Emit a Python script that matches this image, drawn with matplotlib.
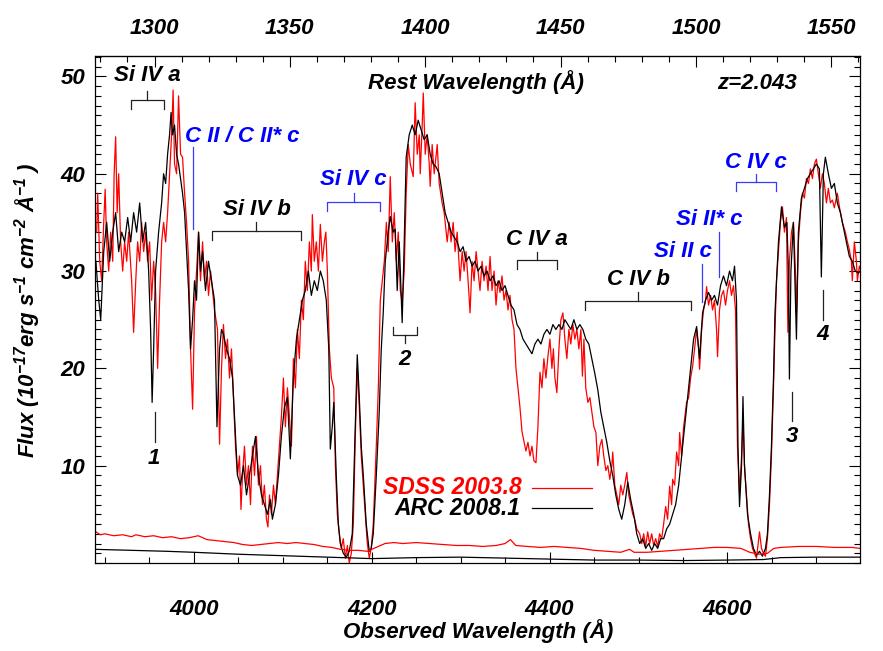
import numpy as np
import matplotlib
matplotlib.use("Agg")
import matplotlib.pyplot as plt
from matplotlib.ticker import MultipleLocator

plt.rcParams['font.family'] = 'Liberation Sans'
plt.rcParams['font.weight'] = 'bold'
plt.rcParams['font.style'] = 'italic'
plt.rcParams['mathtext.fontset'] = 'custom'
plt.rcParams['mathtext.rm'] = 'Liberation Sans:bold:italic'
plt.rcParams['mathtext.it'] = 'Liberation Sans:bold:italic'
plt.rcParams['mathtext.bf'] = 'Liberation Sans:bold:italic'
plt.rcParams['mathtext.default'] = 'rm'

z = 2.043

# ARC 2008.1 spectrum (observed wavelength, flux)
arc = [
    (3890, 31), (3893.2, 27), (3895.4, 25), (3898.8, 32), (3902.1, 35), (3905.5, 31), (3908.9, 34), (3912.2, 36), (3915.6, 32), (3919.0, 34),
    (3922.3, 33), (3925.7, 35.5), (3929.1, 33), (3932.4, 36), (3935.8, 34), (3939.2, 37), (3942.5, 33), (3945.9, 35), (3949.3, 30), (3951.5, 24),
    (3953.2, 16.5), (3954.9, 22), (3957.1, 30), (3960.5, 34), (3963.9, 37), (3966.1, 40), (3968.4, 39), (3970.6, 42), (3972.8, 44), (3974.5, 46.3),
    (3976.2, 44), (3978.4, 45), (3980.7, 42), (3982.9, 41), (3985.2, 39.5), (3987.4, 38), (3989.7, 36), (3991.9, 32), (3994.2, 28), (3996.4, 22),
    (3998.7, 25), (4000.9, 29), (4003.1, 27), (4005.4, 34), (4007.6, 30), (4009.9, 32), (4013.2, 28), (4016.6, 31), (4020.0, 29), (4023.3, 27),
    (4026.1, 14), (4029.0, 22), (4031.2, 24), (4033.4, 23.5), (4036.8, 22), (4040.2, 21), (4043.6, 19), (4046.9, 13), (4049.2, 9), (4052.5, 8),
    (4055.9, 10), (4059.3, 7), (4062.6, 9), (4066.0, 11), (4069.4, 13), (4072.7, 9), (4076.1, 7), (4079.4, 6), (4082.8, 5), (4086.2, 6.5),
    (4088.4, 4.5), (4091.8, 6), (4095.2, 9), (4098.5, 13), (4101.9, 16), (4105.3, 17), (4108.6, 10.7), (4112.0, 19), (4115.4, 23), (4118.7, 25),
    (4122.1, 27), (4125.4, 28), (4128.8, 30), (4132.2, 27.5), (4135.5, 29), (4138.9, 28), (4142.3, 30), (4145.6, 29), (4149.0, 27), (4151.8, 22),
    (4153.5, 11.7), (4155.7, 14), (4157.4, 16.5), (4160.2, 9), (4162.5, 4), (4164.7, 2), (4168.1, 1), (4171.5, 0.6), (4174.8, 1.2), (4178.2, 3),
    (4181.6, 14), (4183.8, 21.4), (4186.1, 17), (4188.3, 12), (4190.6, 9), (4193.9, 4), (4197.3, 1.2), (4199.5, 1.5), (4201.8, 3), (4205.2, 9),
    (4208.5, 15.5), (4210.8, 22), (4213.0, 25.7), (4215.3, 31), (4218.6, 34), (4220.9, 35.6), (4224.2, 34), (4226.5, 34.3), (4228.7, 28), (4231.0, 33),
    (4234.3, 24.7), (4236.6, 33), (4238.8, 41.7), (4242.2, 44), (4245.6, 45), (4248.9, 44), (4252.3, 45.5), (4255.7, 44.5), (4259.0, 43.5), (4262.4, 44),
    (4265.8, 42), (4269.1, 41), (4272.5, 40.7), (4275.9, 40), (4279.2, 38), (4282.6, 36), (4286.0, 35), (4289.3, 34), (4292.7, 33.5), (4296.1, 33),
    (4299.4, 32), (4302.8, 32.5), (4306.1, 31), (4309.5, 31.5), (4312.9, 30.5), (4316.2, 31), (4319.6, 30), (4323.0, 30.5), (4326.3, 29.5), (4329.7, 30),
    (4333.1, 29), (4336.4, 29.5), (4339.8, 28.5), (4343.2, 29), (4346.5, 28), (4349.9, 28.5), (4353.3, 27.5), (4356.6, 26.5), (4360.0, 26), (4363.4, 24.5),
    (4366.7, 24), (4370.1, 23), (4373.4, 22.5), (4376.8, 22), (4380.2, 21.5), (4383.5, 22.5), (4386.9, 23), (4390.3, 22.5), (4393.6, 23.5), (4397.0, 24),
    (4400.4, 23.5), (4403.7, 24.5), (4407.1, 24), (4410.5, 24.5), (4413.8, 24), (4417.2, 25), (4420.6, 24.5), (4423.9, 24), (4427.3, 25), (4430.7, 24),
    (4434.0, 24.5), (4437.4, 24), (4440.7, 23), (4444.1, 22.5), (4447.5, 21), (4450.8, 19.5), (4454.2, 17.8), (4457.6, 15.5), (4460.9, 14), (4464.3, 12.4),
    (4467.7, 10.5), (4471.0, 9), (4474.4, 7), (4477.8, 5.5), (4481.1, 4.5), (4484.5, 6), (4487.9, 8.3), (4491.2, 6.5), (4494.6, 5), (4498.0, 3),
    (4501.3, 2), (4504.7, 2.5), (4508.0, 1.5), (4511.4, 2), (4514.8, 1.3), (4518.1, 2), (4521.5, 1.5), (4524.9, 2.5), (4528.2, 2.5), (4531.6, 3.5),
    (4535.0, 4), (4538.3, 5), (4541.7, 6), (4545.1, 8), (4548.4, 11), (4551.8, 14), (4555.2, 17), (4558.5, 20), (4561.9, 23), (4565.3, 24.3),
    (4568.6, 21), (4572.0, 25.7), (4575.3, 27), (4578.7, 27.8), (4582.1, 27), (4585.4, 27.5), (4588.8, 26.5), (4592.2, 28.5), (4595.5, 29.5), (4598.9, 28.5),
    (4602.3, 30), (4605.6, 29), (4607.9, 30.5), (4610.1, 27), (4611.8, 12), (4613.5, 5.8), (4615.8, 10), (4617.4, 17.1), (4619.1, 10), (4622.5, 5),
    (4625.9, 3), (4629.2, 1.5), (4632.6, 0.8), (4636.0, 1.2), (4639.3, 0.7), (4642.7, 1.5), (4644.9, 3), (4647.2, 7), (4649.4, 12), (4651.7, 19),
    (4653.4, 25.7), (4655.1, 29), (4657.3, 33), (4660.7, 36.6), (4664.0, 34.5), (4666.8, 35), (4668.5, 30), (4669.6, 18.9), (4671.3, 30), (4674.1, 35),
    (4677.5, 23), (4679.7, 34), (4683.1, 37.5), (4686.5, 38.5), (4689.8, 39.5), (4693.2, 40), (4696.6, 40.5), (4699.9, 41), (4703.3, 40.5), (4705.5, 29.4),
    (4707.8, 40), (4710.0, 41.7), (4713.4, 40), (4716.8, 38.5), (4720.1, 39), (4723.5, 37), (4726.9, 36), (4730.2, 34.5), (4733.6, 33), (4737.0, 31.5),
    (4740.3, 31), (4743.7, 30), (4747.1, 29.8), (4749.3, 30),
]

# SDSS 2003.8 spectrum (observed wavelength, flux)
sdss = [
    (3890.9, 34), (3892.0, 38), (3894.3, 31), (3896.5, 29), (3898.8, 35), (3900.4, 38.4), (3902.1, 33), (3904.4, 30), (3906.6, 34), (3908.9, 31),
    (3910.5, 40), (3912.2, 43.8), (3913.9, 36), (3915.6, 40), (3917.8, 33), (3920.1, 30), (3922.3, 33), (3924.6, 31), (3926.8, 34), (3930.2, 29),
    (3932.4, 23.7), (3934.7, 28.8), (3936.9, 33), (3939.2, 31), (3941.4, 35), (3943.7, 32), (3945.9, 34), (3948.1, 31), (3950.4, 33), (3952.6, 27),
    (3954.9, 31), (3957.1, 28), (3959.4, 20), (3961.6, 27), (3963.9, 33), (3966.1, 35), (3968.4, 33), (3970.6, 36), (3972.8, 40), (3975.1, 44),
    (3976.8, 48.6), (3978.4, 41), (3980.7, 40), (3982.9, 48), (3985.2, 42), (3987.4, 41.7), (3989.7, 38), (3991.9, 35), (3994.2, 31), (3996.4, 22),
    (3998.7, 15.8), (4000.9, 26), (4003.1, 30), (4005.4, 34), (4007.6, 29), (4009.9, 33), (4012.1, 29), (4014.4, 31), (4016.6, 27.5), (4018.9, 30),
    (4021.1, 28), (4023.3, 26), (4026.7, 24), (4029.0, 12.2), (4031.2, 20), (4033.4, 24.5), (4035.7, 21), (4037.9, 23), (4040.2, 19), (4042.4, 22),
    (4044.7, 17), (4046.9, 12), (4049.2, 9), (4051.4, 11), (4053.1, 5.5), (4054.8, 9), (4057.0, 12), (4059.3, 8), (4061.5, 10), (4063.8, 6),
    (4066.0, 12), (4068.3, 9), (4070.5, 13), (4072.7, 8), (4075.0, 10), (4077.2, 6), (4079.4, 8), (4081.7, 4.5), (4083.4, 3.7), (4085.1, 7),
    (4087.3, 5), (4089.6, 8), (4091.8, 6), (4094.0, 9), (4096.3, 12), (4098.5, 15), (4100.8, 19), (4103.0, 14), (4105.3, 18), (4107.5, 15),
    (4109.8, 12), (4112.0, 21), (4114.3, 18), (4116.5, 24), (4118.7, 21), (4121.0, 27), (4123.2, 25), (4125.4, 31), (4127.7, 28), (4130.0, 33),
    (4132.2, 30), (4133.3, 35.8), (4135.5, 31), (4137.8, 33), (4140.1, 30), (4142.3, 34.8), (4144.6, 31), (4146.8, 33), (4148.5, 34), (4150.2, 30),
    (4152.4, 22), (4154.7, 19), (4157.4, 18), (4159.2, 10), (4161.4, 5), (4163.7, 3), (4165.9, 1.5), (4168.1, 2.5), (4170.4, 0.5), (4172.7, 1.8),
    (4174.8, 0), (4177.1, 1), (4179.4, 4), (4181.6, 13), (4183.8, 20), (4186.1, 16), (4188.3, 11), (4190.6, 8), (4192.9, 5), (4195.1, 2),
    (4197.3, 0.5), (4199.5, 1.5), (4201.8, 4), (4205.2, 12), (4207.5, 18), (4209.7, 27), (4212.0, 29), (4214.2, 31), (4216.5, 35), (4218.6, 32),
    (4220.9, 39.7), (4223.2, 33), (4225.4, 36), (4227.7, 31), (4229.9, 34), (4232.2, 28), (4234.3, 26.8), (4236.6, 30), (4238.8, 38), (4241.1, 43),
    (4243.4, 41), (4246.7, 39.7), (4248.9, 47.3), (4251.2, 42), (4253.5, 44), (4254.6, 40), (4256.8, 45), (4258.0, 48.3), (4260.2, 42), (4262.4, 44),
    (4264.7, 41), (4265.8, 38.7), (4268.0, 43), (4270.3, 40), (4273.7, 43), (4275.9, 39), (4279.2, 37), (4281.5, 36), (4284.9, 33), (4287.1, 35),
    (4289.3, 33), (4291.6, 35), (4293.8, 32), (4296.1, 34), (4299.4, 29), (4301.7, 32), (4303.9, 30), (4306.1, 32), (4308.4, 29), (4310.6, 25.7),
    (4312.9, 31), (4315.1, 29), (4317.4, 32), (4319.6, 30), (4321.8, 28), (4324.1, 31), (4326.3, 29), (4328.6, 30.5), (4330.8, 28), (4333.1, 31.5),
    (4335.3, 28), (4337.6, 30), (4339.8, 26.5), (4342.0, 29), (4344.3, 27.8), (4346.5, 29.5), (4348.8, 27), (4351.0, 28), (4353.3, 26), (4355.5, 27.5),
    (4357.8, 25), (4360.0, 24), (4362.2, 20), (4364.5, 18), (4366.7, 16), (4369.0, 13.5), (4371.2, 12.5), (4373.4, 11.5), (4375.7, 12.4), (4378.0, 11),
    (4380.2, 12), (4382.4, 10.5), (4384.7, 10.3), (4386.9, 14), (4389.2, 19.6), (4391.4, 18), (4393.6, 21), (4395.9, 19), (4398.1, 21.2), (4400.4, 23),
    (4402.6, 20), (4404.3, 22), (4406.0, 19), (4408.2, 17.5), (4410.5, 22), (4412.7, 25), (4415.0, 25.7), (4417.2, 23), (4419.4, 21), (4421.7, 24),
    (4423.9, 22.5), (4426.2, 24.5), (4428.4, 23), (4430.7, 24), (4432.9, 22), (4435.2, 24), (4436.9, 19.2), (4438.6, 23), (4440.7, 18), (4443.1, 16.5),
    (4445.3, 17), (4447.5, 15.5), (4449.8, 14), (4452.1, 13.4), (4454.2, 10), (4456.5, 12), (4458.8, 12.7), (4460.9, 11), (4463.3, 9.5), (4465.5, 10),
    (4467.7, 8.6), (4470.0, 10), (4471.0, 11.4), (4473.3, 8), (4475.6, 7), (4477.8, 6), (4480.0, 8), (4482.3, 7), (4484.5, 8), (4486.8, 9.3),
    (4489.0, 7), (4491.2, 6), (4493.5, 5), (4495.7, 4.5), (4498.0, 3.5), (4501.3, 3), (4503.6, 2), (4505.8, 3), (4508.0, 1.7), (4510.3, 3.2),
    (4512.5, 2), (4514.8, 3), (4517.0, 1.8), (4519.3, 2.5), (4521.5, 1.7), (4523.7, 3), (4526.0, 2.5), (4528.2, 4), (4530.5, 5.8), (4532.7, 4.5),
    (4535.0, 7.9), (4537.2, 6), (4538.3, 8.6), (4540.6, 8), (4542.8, 11.4), (4545.1, 10), (4546.2, 13.4), (4548.4, 11), (4550.7, 14), (4554.0, 16.5),
    (4556.3, 17), (4558.5, 19), (4560.8, 20.2), (4563.0, 22), (4565.3, 24), (4567.5, 22), (4568.6, 19.9), (4570.9, 24), (4573.1, 26), (4575.3, 27),
    (4576.5, 28.4), (4578.7, 26.5), (4581.0, 27.5), (4583.2, 26), (4585.4, 27), (4587.7, 24), (4588.8, 21.2), (4591.0, 26), (4593.3, 27.5), (4595.5, 28),
    (4597.8, 26.5), (4600.0, 28), (4602.3, 29), (4604.5, 27.5), (4606.7, 28.5), (4609.0, 26), (4611.2, 12), (4613.5, 7), (4615.8, 11), (4617.4, 14.5),
    (4619.1, 10), (4621.3, 7), (4623.6, 4), (4625.9, 2.5), (4628.1, 1.5), (4630.3, 1), (4632.6, 0.5), (4636.0, 3.2), (4638.2, 1.5), (4640.4, 1),
    (4642.7, 0.7), (4644.9, 2.5), (4647.2, 6), (4649.4, 11), (4651.7, 18), (4653.4, 24), (4655.1, 29), (4657.3, 32), (4659.5, 35), (4661.8, 36.6),
    (4664.0, 34), (4666.3, 35.5), (4667.9, 23.7), (4669.6, 31), (4671.9, 34), (4674.1, 35), (4676.4, 30), (4677.5, 25.7), (4679.7, 33), (4682.0, 36),
    (4684.2, 38), (4686.5, 37.5), (4688.7, 39.5), (4691.0, 39), (4693.2, 40.5), (4695.5, 39.5), (4697.7, 41), (4699.9, 41.5), (4702.2, 40), (4704.4, 38.5),
    (4706.7, 40), (4708.9, 39), (4711.2, 37), (4713.4, 38.5), (4715.7, 37), (4717.9, 37.3), (4720.1, 36.5), (4723.5, 38), (4725.8, 36.6), (4729.1, 35),
    (4732.5, 34), (4734.8, 33), (4737.0, 32.2), (4739.3, 31), (4740.3, 29), (4742.6, 33), (4744.9, 31), (4746.0, 29), (4748.2, 30.5), (4750, 30),
]

# error spectra
sdss_err = [
    (3890, 3.2), (3895, 2.9), (3900, 3.0), (3910, 2.8), (3920, 2.9), (3930, 2.7), (3935, 2.9), (3945, 2.7), (3955, 2.8), (3965, 2.6),
    (3975, 2.7), (3985, 2.5), (3995, 2.6), (4005, 2.8), (4015, 2.4), (4025, 2.3), (4035, 2.2), (4045, 2.1), (4055, 1.9), (4065, 1.8),
    (4075, 1.9), (4085, 2.0), (4095, 2.1), (4105, 2.0), (4115, 2.1), (4125, 2.0), (4135, 1.9), (4145, 1.7), (4155, 1.6), (4165, 1.4),
    (4175, 1.3), (4185, 1.3), (4195, 1.2), (4205, 1.6), (4215, 2.0), (4225, 2.1), (4235, 2.0), (4250, 2.1), (4265, 2.0), (4280, 1.9),
    (4295, 1.8), (4310, 1.8), (4325, 1.7), (4340, 1.8), (4350, 2.0), (4356, 2.4), (4362, 1.8), (4375, 1.7), (4390, 1.6), (4405, 1.7),
    (4420, 1.6), (4435, 1.5), (4450, 1.3), (4465, 1.2), (4480, 1.1), (4490, 1.4), (4495, 1.1), (4510, 1.1), (4525, 1.2), (4540, 1.3),
    (4555, 1.4), (4570, 1.5), (4585, 1.6), (4600, 1.6), (4615, 1.5), (4625, 1.1), (4635, 0.9), (4645, 1.0), (4652, 1.5), (4660, 1.6),
    (4680, 1.7), (4700, 1.7), (4720, 1.6), (4740, 1.6), (4749, 1.5),
]
arc_err = [
    (3890, 1.4), (3930, 1.3), (3970, 1.2), (4000, 1.1), (4050, 0.9), (4100, 0.75), (4150, 0.6), (4200, 0.45), (4250, 0.55), (4300, 0.6),
    (4350, 0.5), (4400, 0.4), (4450, 0.3), (4500, 0.3), (4550, 0.25), (4600, 0.3), (4640, 0.35), (4660, 0.55), (4700, 0.6), (4749, 0.6),
]

arc_w, arc_f = np.array(arc).T
sdss_w, sdss_f = np.array(sdss).T
sdss_ew, sdss_e = np.array(sdss_err).T
arc_ew, arc_e = np.array(arc_err).T

fig = plt.figure(figsize=(8.83, 6.51), dpi=100)
ax = fig.add_axes([0.1076, 0.1352, 0.8664, 0.7788])

ax.plot(sdss_w, sdss_f, color='red', lw=0.9)
ax.plot(arc_w, arc_f, color='black', lw=0.9)
ax.plot(sdss_ew, sdss_e, color='red', lw=0.9)
ax.plot(arc_ew, arc_e, color='black', lw=0.9)

ax.set_xlim(3889, 4749)
ax.set_ylim(0, 52.1)
ax.set_xticks([4000, 4200, 4400, 4600])
ax.xaxis.set_minor_locator(MultipleLocator(50))
ax.set_yticks([10, 20, 30, 40, 50])
ax.yaxis.set_minor_locator(MultipleLocator(1))
ax.tick_params(which='both', direction='in', top=False, right=True, labelsize=16, width=0.8)
ax.tick_params(which='major', length=8)
ax.tick_params(which='minor', length=4)
ax.tick_params(axis='x', pad=26)
ax.tick_params(axis='y', pad=7)
for sp in ax.spines.values():
    sp.set_linewidth(0.9)

top = ax.secondary_xaxis('top', functions=(lambda w: w / (1 + z), lambda r: r * (1 + z)))
top.set_xticks([1300, 1350, 1400, 1450, 1500, 1550])
top.xaxis.set_minor_locator(MultipleLocator(10))
top.tick_params(which='both', direction='in', labelsize=16, width=0.8, pad=12)
top.tick_params(which='major', length=8)
top.tick_params(which='minor', length=4)

fig.text(478 / 883, 1 - 631 / 651, 'Observed Wavelength (Å)', ha='center', va='center', fontsize=16)
fig.text(28 / 883, 1 - 310 / 651, 'Flux (10$^{-17}$erg s$^{-1}$ cm$^{-2}$ Å$^{-1}$ )',
         ha='center', va='center', rotation=90, fontsize=16)
ax.text(4317, 49.4, 'Rest Wavelength (Å)', ha='center', va='center', fontsize=16)
ax.text(4633, 49.3, 'z=2.043', ha='center', va='center', fontsize=16)

blue = '#0000ff'
line_blue = '#3a3aff'
gray = '#222222'


def bracket(x0, x1, y, color, down=True, text=None, ty=None, size=16):
    d = -0.9 if down else 0.8
    xm = 0.5 * (x0 + x1)
    lc = line_blue if color == blue else color
    ax.plot([x0, x0, x1, x1], [y + d, y, y, y + d], color=lc, lw=0.9)
    ax.plot([xm, xm], [y, y - d], color=lc, lw=0.9)
    if text:
        ax.text(xm, ty, text, ha='center', va='center', fontsize=size,
                color='black' if color == gray else color)


def tick_line(x, y0, y1, color, text=None, tx=None, ty=None, size=16):
    lc = line_blue if color == blue else color
    ax.plot([x, x], [y0, y1], color=lc, lw=0.9)
    if text:
        ax.text(tx, ty, text, ha='center', va='center', fontsize=size,
                color='black' if color == gray else color)


bracket(3929, 3966, 47.6, gray, text='Si IV a', ty=50.1)
bracket(4021, 4120, 34.1, gray, text='Si IV b', ty=36.3)
bracket(4150, 4209.5, 37.1, blue, text='Si IV c', ty=39.4)
bracket(4363, 4408, 31.1, gray, text='C IV a', ty=33.2)
bracket(4439.5, 4559.5, 26.9, gray, text='C IV b', ty=29.1)
bracket(4610, 4654, 39.1, blue, text='C IV c', ty=41.2)
bracket(4224, 4251, 23.4, gray, down=False, text='2', ty=20.9)

tick_line(3998.6, 42.7, 34.3, blue, 'C II / C II* c', 4055, 43.8)
tick_line(4571, 30.7, 26.8, blue, 'Si II c', 4550, 32.0)
tick_line(4590, 34.0, 29.4, blue, 'Si II* c', 4580, 35.3)
tick_line(3956, 15.5, 12.4, gray, '1', 3955, 10.7)
tick_line(4673, 17.6, 14.6, gray, '3', 4673, 13.0)
tick_line(4707, 28.1, 25.0, gray, '4', 4707, 23.5)

# legend
ax.text(4369, 7.8, 'SDSS 2003.8', ha='right', va='center', fontsize=16.5, color='red')
ax.plot([4380, 4448], [7.7, 7.7], color='red', lw=0.9)
ax.text(4367, 5.6, 'ARC 2008.1', ha='right', va='center', fontsize=16.5, color='black')
ax.plot([4380, 4448], [5.6, 5.6], color='black', lw=0.9)

fig.savefig('out.png', dpi=100)
